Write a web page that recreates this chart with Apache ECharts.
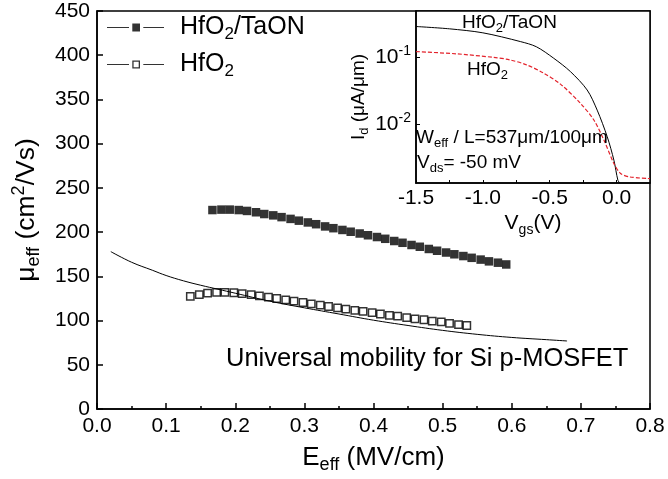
<!DOCTYPE html>
<html>
<head>
<meta charset="utf-8">
<script src="https://cdn.jsdelivr.net/npm/echarts@6/dist/echarts.min.js"></script>
<style>
  html, body { margin: 0; padding: 0; background: #fff; }
  #chart { width: 668px; height: 479px; }
</style>
</head>
<body>
<div id="chart"></div>
<script>
// main plot: effective mobility vs effective field
var eTaON = [0.167, 0.180, 0.192, 0.205, 0.217, 0.230, 0.242, 0.255, 0.267, 0.280, 0.292, 0.305,
             0.317, 0.330, 0.342, 0.355, 0.367, 0.380, 0.392, 0.405, 0.417, 0.430, 0.442, 0.455,
             0.467, 0.480, 0.492, 0.505, 0.517, 0.530, 0.542, 0.555, 0.567, 0.580, 0.592];
var muTaON = [225, 225.5, 225.5, 225, 224, 222.5, 220.5, 219, 217, 215, 213, 211,
              209, 206.5, 204.5, 202.5, 200.5, 198.5, 196.5, 194.5, 192.5, 190, 188, 185.5,
              183.5, 181, 179, 177, 175, 173, 171, 169, 167, 165.5, 163.5];

var eHfO = [0.135, 0.148, 0.160, 0.173, 0.185, 0.198, 0.210, 0.223, 0.235, 0.248, 0.260,
            0.273, 0.285, 0.298, 0.310, 0.323, 0.335, 0.348, 0.360, 0.373, 0.385, 0.398,
            0.410, 0.423, 0.435, 0.448, 0.460, 0.473, 0.485, 0.498, 0.510, 0.523, 0.535];
var muHfO = [127.5, 129.5, 131, 132, 132, 131.5, 130.5, 129.5, 128, 126.5, 125,
             123.5, 122, 120.5, 119, 117.5, 116, 114.5, 113, 111.5, 110.5, 109,
             107.5, 106, 105, 103.5, 102, 101, 99.5, 98.5, 97, 95.5, 94.5];

var eUniv = [0.02, 0.05, 0.08, 0.10, 0.125, 0.15, 0.175, 0.20, 0.25, 0.30, 0.35, 0.40, 0.45, 0.50, 0.55, 0.60, 0.65, 0.68];
var muUniv = [178, 166, 157, 151, 145, 140, 135.5, 131, 122, 114.5, 107.5, 100.5, 94.5, 89, 84.5, 81, 78.5, 77];

// inset: Id vs Vgs (log)
var vgsTaON = [-1.5, -1.25, -1.0, -0.72, -0.6, -0.47, -0.345, -0.22, -0.145, -0.07, -0.02, 0.01, 0.025];
var idTaON = [0.288, 0.266, 0.232, 0.172, 0.144, 0.097, 0.0614, 0.0327, 0.0164, 0.0066, 0.00295, 0.00148, 0.00135];
var vgsHfO = [-1.5, -1.2, -0.92, -0.8, -0.67, -0.55, -0.42, -0.27, -0.17, -0.095, -0.02, 0.03, 0.1, 0.25];
var idHfO = [0.122, 0.113, 0.1, 0.092, 0.077, 0.059, 0.04, 0.0207, 0.0117, 0.0059, 0.00264, 0.00187, 0.00166, 0.00157];

var FONT = "'Liberation Sans', Arial, sans-serif";

function pairs(xs, ys) {
  return xs.map(function (x, i) { return [x, ys[i]]; });
}

// sub / superscript styles for rich text
function rich(size) {
  var small = Math.round(size * 0.68);
  return {
    s: { fontSize: small, fontFamily: FONT, color: '#000', verticalAlign: 'bottom', lineHeight: small + 2 },
    p: { fontSize: small, fontFamily: FONT, color: '#000', verticalAlign: 'top', lineHeight: small + 2 }
  };
}

function txt(size) {
  return { fontSize: size, fontFamily: FONT, color: '#000', fontWeight: 'normal', lineHeight: size + 6, rich: rich(size) };
}

var iconFilled = 'path://M0 3.5H22V4.5H0Z M25.3 0H33V8H25.3Z M36.3 3.5H57V4.5H36.3Z';
var iconOpen = 'path://M0 3.5H22V4.5H0Z M25.3 0H33V8H25.3Z M26.6 1.3V6.7H31.7V1.3Z M36.3 3.5H57V4.5H36.3Z';

var chart = echarts.init(document.getElementById('chart'));

var legendBase = {
  orient: 'vertical',
  left: 107,
  padding: 0,
  itemWidth: 57,
  itemHeight: 8,
  itemStyle: { color: '#000', borderWidth: 0 },
  textStyle: Object.assign(txt(25), { padding: [0, 0, 0, 11] }),
  formatter: function (name) { return name.replace('2', '{s|2}'); }
};

var option = {
  animation: false,
  backgroundColor: '#fff',
  title: [
    { text: 'Universal mobility for Si p-MOSFET', left: 226, top: 343, padding: 0, textStyle: txt(25.5) },
    { text: 'HfO{s|2}/TaON', left: 462, top: 10, padding: 0, textStyle: txt(19) },
    { text: 'HfO{s|2}', left: 467, top: 57, padding: 0, textStyle: txt(19) },
    { text: 'W{s|eff} / L=537μm/100μm', left: 416, top: 125, padding: 0, textStyle: txt(19) },
    { text: 'V{s|ds}= -50 mV', left: 417, top: 150, padding: 0, textStyle: txt(19) }
  ],
  legend: [
    Object.assign({}, legendBase, { top: 12, icon: iconFilled, data: ['HfO2/TaON'] }),
    Object.assign({}, legendBase, { top: 49, icon: iconOpen, data: ['HfO2'] })
  ],
  grid: [
    { left: 97, right: 18, top: 11, bottom: 63, show: true, borderColor: '#000', borderWidth: 1.5 },
    { left: 416, right: 18, top: 11, bottom: 296, show: true, borderColor: '#000', borderWidth: 1.5, backgroundColor: '#fff' }
  ],
  xAxis: [
    {
      gridIndex: 0, type: 'value', min: 0, max: 0.8, interval: 0.1,
      axisLine: { onZero: false, lineStyle: { color: '#000', width: 1.5 } },
      axisTick: { inside: true, length: 6, lineStyle: { color: '#000', width: 1.5 } },
      minorTick: { show: true, splitNumber: 2, length: 3, lineStyle: { color: '#000', width: 1.5 } },
      splitLine: { show: false },
      axisLabel: { fontSize: 21, fontFamily: FONT, color: '#000', margin: 7, formatter: function (v) { return v.toFixed(1); } },
      name: 'E{s|eff} (MV/cm)', nameLocation: 'middle', nameGap: 26, nameTextStyle: txt(26)
    },
    {
      gridIndex: 1, type: 'value', min: -1.5, max: 0.25, interval: 0.25,
      axisLine: { onZero: false, lineStyle: { color: '#000', width: 1.5 } },
      axisTick: { inside: true, length: 3, lineStyle: { color: '#000', width: 1 } },
      splitLine: { show: false },
      axisLabel: {
        fontSize: 21, fontFamily: FONT, color: '#000', margin: 5, showMaxLabel: false,
        formatter: function (v) { return Math.abs(v * 2 - Math.round(v * 2)) < 1e-6 ? v.toFixed(1) : ''; }
      },
      name: 'V{s|gs}(V)', nameLocation: 'middle', nameGap: 21, nameTextStyle: txt(21)
    }
  ],
  yAxis: [
    {
      gridIndex: 0, type: 'value', min: 0, max: 450, interval: 50,
      axisLine: { onZero: false, lineStyle: { color: '#000', width: 1.5 } },
      axisTick: { inside: true, length: 6, lineStyle: { color: '#000', width: 1.5 } },
      splitLine: { show: false },
      axisLabel: { fontSize: 21, fontFamily: FONT, color: '#000', margin: 7 },
      name: 'μ{s|eff} (cm{p|2}/Vs)', nameLocation: 'middle', nameGap: 54, nameRotate: 90, nameTextStyle: txt(26.5)
    },
    {
      gridIndex: 1, type: 'log', logBase: 10, min: 0.00135, max: 0.49,
      axisLine: { onZero: false, lineStyle: { color: '#000', width: 1.5 } },
      axisTick: { inside: true, length: 4, lineStyle: { color: '#000', width: 1 } },
      splitLine: { show: false },
      axisLabel: {
        fontSize: 21, fontFamily: FONT, color: '#000', margin: 5, lineHeight: 27,
        showMinLabel: false, showMaxLabel: false,
        rich: rich(21),
        formatter: function (v) {
          var e = Math.log(v) / Math.LN10;
          var r = Math.round(e);
          return Math.abs(e - r) < 1e-6 ? '10{p|' + r + '}' : '';
        }
      },
      name: 'I{s|d} (μA/μm)', nameLocation: 'middle', nameGap: 44, nameRotate: 90, nameTextStyle: txt(19)
    }
  ],
  series: [
    {
      name: 'HfO2/TaON', type: 'scatter', xAxisIndex: 0, yAxisIndex: 0,
      symbol: 'rect', symbolSize: 8.5,
      itemStyle: { color: '#000' },
      data: pairs(eTaON, muTaON)
    },
    {
      name: 'HfO2', type: 'scatter', xAxisIndex: 0, yAxisIndex: 0,
      symbol: 'rect', symbolSize: 7.3,
      itemStyle: { color: '#fff', borderColor: '#000', borderWidth: 1.5 },
      data: pairs(eHfO, muHfO)
    },
    {
      name: 'Universal', type: 'line', xAxisIndex: 0, yAxisIndex: 0,
      showSymbol: false, smooth: 0.4,
      lineStyle: { color: '#000', width: 1 },
      data: pairs(eUniv, muUniv)
    },
    {
      name: 'Id HfO2/TaON', type: 'line', xAxisIndex: 1, yAxisIndex: 1,
      showSymbol: false, smooth: 0.3,
      lineStyle: { color: '#000', width: 1 },
      data: pairs(vgsTaON, idTaON)
    },
    {
      name: 'Id HfO2', type: 'line', xAxisIndex: 1, yAxisIndex: 1,
      showSymbol: false, smooth: 0.3,
      lineStyle: { color: '#e3222b', width: 1.2, type: [4, 2] },
      data: pairs(vgsHfO, idHfO)
    }
  ]
};

chart.setOption(option);
</script>
</body>
</html>
